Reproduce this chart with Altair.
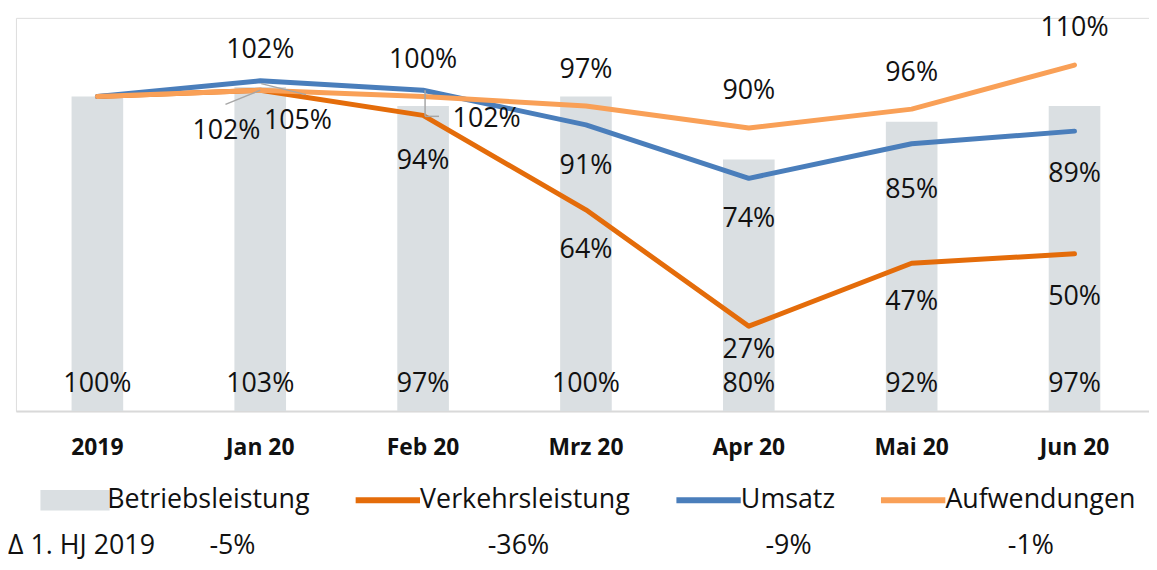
import altair as alt
import pandas as pd

# ---------------- data ----------------
months = ["2019", "Jan 20", "Feb 20", "Mrz 20", "Apr 20", "Mai 20", "Jun 20"]
betriebsleistung = [100, 103, 97, 100, 80, 92, 97]
verkehrsleistung = [100, 102, 94, 64, 27, 47, 50]
umsatz = [100, 105, 102, 91, 74, 85, 89]
aufwendungen = [100, 102, 100, 97, 90, 96, 110]

series_names = ["Betriebsleistung", "Verkehrsleistung", "Umsatz", "Aufwendungen"]
series_colors = ["#dadfe2", "#e46c0a", "#4a7ebb", "#f9a057"]

footer_title = "Δ 1. HJ 2019"
footer_values = ["-5%", "-36%", "-9%", "-1%"]

# ---------------- label placement (styling) ----------------
line_label_offsets = {
    "Verkehrsleistung": [None, (-34, 41), (0, 46), (0, 41), (0, 24), (0, 39), (0, 44)],
    "Umsatz": [None, (38, 41), (64, 29), (0, 42), (0, 41), (0, 47), (0, 43)],
    "Aufwendungen": [None, (0, -40), (0, -37), (0, -36), (0, -37), (0, -36), (0, -37)],
}
footer_anchor = [("2019", -90, "left"), ("Jan 20", -28, "center"), ("Feb 20", 96, "center"),
                 ("Apr 20", 40, "center"), ("Jun 20", -44, "center")]
# leader lines: month, y start, y end, x offset start, x offset end
leaders = [("Jan 20", 102, 97.5, 0, -35), ("Jan 20", 104.1, 100.6, 1, 46),
           ("Feb 20", 102, 93.7, 2, 2), ("Feb 20", 93.7, 93.7, 2, 16)]

FONT = "Open Sans"
TXT = "#111111"

line_values = {"Verkehrsleistung": verkehrsleistung, "Umsatz": umsatz, "Aufwendungen": aufwendungen}

x_enc = alt.X("month:N", sort=months,
              scale=alt.Scale(domain=months, range=[0, 1148], paddingInner=0.683, paddingOuter=0.3415),
              axis=alt.Axis(title=None, ticks=False, domainColor="#d9d9d9", domainWidth=2,
                            labelFont=FONT, labelFontWeight="bold", labelFontSize=23,
                            labelColor=TXT, labelPadding=26, labelAngle=0, grid=False))
y_scale = alt.Scale(domain=[0, 125], nice=False, zero=True)
color_scale = alt.Scale(domain=series_names, range=series_colors)

IS_BAR = "datum.value === 'Betriebsleistung'"
legend = alt.Legend(
    orient="none", legendX=46, legendY=472, direction="horizontal", title=None,
    symbolSize=4200, labelFontSize=27, labelFont=FONT, labelColor=TXT,
    labelOffset=19, columnPadding=34, padding=0, labelLimit=600,
    symbolType=alt.ExprRef(expr=IS_BAR + " ? 'M-1.075,-0.315H1.075V0.315H-1.075Z' : 'stroke'"),
    symbolStrokeWidth=alt.ExprRef(expr=IS_BAR + " ? 0 : 6"),
    symbolStrokeColor=alt.ExprRef(expr="scale('color', datum.value)"),
    symbolFillColor=alt.ExprRef(expr="scale('color', datum.value)"),
    symbolOpacity=1)

color_enc = alt.Color("series:N", scale=color_scale, legend=legend)

bar_df = pd.DataFrame({"month": months, "value": betriebsleistung, "series": "Betriebsleistung",
                       "label": [f"{v}%" for v in betriebsleistung]})

bars = alt.Chart(bar_df).mark_bar(opacity=1).encode(
    x=x_enc, y=alt.Y("value:Q", scale=y_scale, axis=None), color=color_enc)

bar_labels = alt.Chart(bar_df).mark_text(font=FONT, fontSize=27, color=TXT, dy=-27, baseline="middle").encode(
    x=alt.X("month:N", sort=months), y=alt.datum(0), text="label:N")

layers = [bars, bar_labels]

for s in ["Verkehrsleistung", "Umsatz", "Aufwendungen"]:
    df = pd.DataFrame({"month": months, "value": line_values[s], "series": s})
    layers.append(alt.Chart(df).mark_line(strokeWidth=5, strokeJoin="round", strokeCap="round").encode(
        x=alt.X("month:N", sort=months), y="value:Q", color=color_enc))

# leader lines
for m, y1, y2, o1, o2 in leaders:
    ldf = pd.DataFrame({"month": [m], "y1": [y1], "y2": [y2]})
    layers.append(alt.Chart(ldf).mark_rule(color="#a6a6a6", strokeWidth=1.5, xOffset=o1, x2Offset=o2).encode(
        x=alt.X("month:N", sort=months), x2="month:N", y="y1:Q", y2="y2:Q"))

# line labels
rows = []
for s, offs in line_label_offsets.items():
    for m, v, o in zip(months, line_values[s], offs):
        if o is None:
            continue
        rows.append({"month": m, "value": v, "label": f"{v}%", "dx": o[0], "dy": o[1]})
lab_df = pd.DataFrame(rows)
for (dx, dy), g in lab_df.groupby(["dx", "dy"]):
    layers.append(alt.Chart(g).mark_text(font=FONT, fontSize=27, color=TXT, dx=int(dx), dy=int(dy),
                                         baseline="middle").encode(
        x=alt.X("month:N", sort=months), y="value:Q", text="label:N"))

# footer row
footer_texts = [footer_title] + footer_values
for (m, dx, al), t in zip(footer_anchor, footer_texts):
    fdf = pd.DataFrame({"month": [m], "t": [t]})
    layers.append(alt.Chart(fdf).mark_text(font=FONT, fontSize=27, color=TXT, dx=dx, align=al,
                                           baseline="middle").encode(
        x=alt.X("month:N", sort=months), y=alt.value(532), text="t:N"))

chart = alt.layer(*layers).resolve_scale(color="shared").properties(
    width=1141, height=396,
    padding={"left": 8, "top": 8, "right": 0, "bottom": 150},
    autosize=alt.AutoSizeParams(type="none"),
).configure_view(stroke=None).configure(background="white")

chart.save("out.html", embed_options={"renderer": "svg", "actions": False})
